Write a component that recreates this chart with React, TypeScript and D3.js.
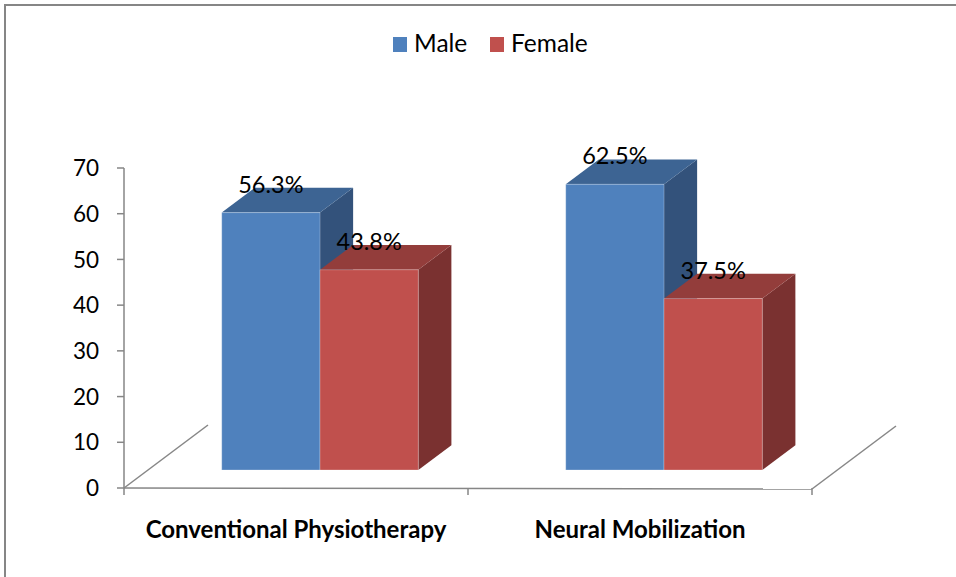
import React from "react";
import * as d3 from "d3";

const categories = ["Conventional Physiotherapy", "Neural Mobilization"];
const seriesNames = ["Male", "Female"];
const maleValues = [56.3, 62.5];
const femaleValues = [43.8, 37.5];
const yTicks = [0, 10, 20, 30, 40, 50, 60, 70];

const seriesValues = [maleValues, femaleValues];
const faceColors = [
  { front: "#4F81BD", top: "#3D6493", side: "#33527B" },
  { front: "#C0504D", top: "#933D3B", side: "#7A3130" },
];

const W = 956;
const H = 577;
const FONT = "Lato, 'Noto Sans', sans-serif";

// oblique projection of the depth axis
const floorDepth = { dx: 84, dy: -63 };
const barFront = 0.286;
const barBack = 0.68;

export default function App() {
  const x = d3.scaleBand<string>().domain(categories).range([124, 812]).paddingInner(0).paddingOuter(0);
  const y = d3.scaleLinear().domain([0, 70]).range([488, 168]);

  const fdx = floorDepth.dx * barFront;
  const fdy = floorDepth.dy * barFront;
  const bdx = floorDepth.dx * barBack;
  const bdy = floorDepth.dy * barBack;
  const ddx = bdx - fdx;
  const ddy = bdy - fdy;

  const bw = x.bandwidth();
  const barW = bw / 3.5;
  const sub = d3.scaleBand<string>().domain(seriesNames).range([0, barW * 2]);

  const bars: React.ReactNode[] = [];
  const labels: React.ReactNode[] = [];
  categories.forEach((c, ci) => {
    const groupStart = (x(c) as number) + (bw - barW * 2) / 2;
    seriesNames.forEach((s, si) => {
      const v = seriesValues[si][ci];
      const col = faceColors[si];
      const x0 = groupStart + (sub(s) as number) + fdx;
      const x1 = x0 + sub.bandwidth();
      const yb = y(0) + fdy;
      const yt = y(v) + fdy;
      const front = `M${x0},${yb}L${x0},${yt}L${x1},${yt}L${x1},${yb}Z`;
      const top = `M${x0},${yt}L${x0 + ddx},${yt + ddy}L${x1 + ddx},${yt + ddy}L${x1},${yt}Z`;
      const side = `M${x1},${yb}L${x1},${yt}L${x1 + ddx},${yt + ddy}L${x1 + ddx},${yb + ddy}Z`;
      bars.push(
        <g key={`${c}-${s}`}>
          <path d={side} fill={col.side} />
          <path d={top} fill={col.top} />
          <path d={front} fill={col.front} stroke="#ffffff" strokeOpacity={0.25} strokeWidth={1} />
        </g>
      );
      labels.push(
        <text
          key={`l-${c}-${s}`}
          x={(x0 + x1) / 2}
          y={yt - 20}
          textAnchor="middle"
          fontFamily={FONT}
          fontSize={23.5}
          fill="#000"
        >
          {`${v.toFixed(1)}%`}
        </text>
      );
    });
  });

  const x0 = 124;
  const x1 = 812;
  const y0 = y(0);

  return (
    <svg
      width={W}
      height={H}
      viewBox={`0 0 ${W} ${H}`}
      style={{ position: "absolute", left: 0, top: 0, display: "block", background: "#fff" }}
    >
      <rect x={5} y={5} width={W + 10} height={H + 10} fill="#fff" stroke="#868686" strokeWidth={2} />

      {/* legend */}
      <g fontFamily={FONT} fontSize={24.5}>
        <rect x={393} y={37} width={14} height={15} fill={faceColors[0].front} />
        <text x={414} y={52} fill="#000">Male</text>
        <rect x={490} y={37} width={14} height={15} fill={faceColors[1].front} />
        <text x={511} y={52} fill="#000">Female</text>
      </g>

      {/* floor */}
      <g stroke="#868686" strokeWidth={1.5} fill="none">
        <line x1={x0} y1={y0} x2={x0 + floorDepth.dx} y2={y0 + floorDepth.dy} />
        <line x1={x1} y1={y0 + 1} x2={x1 + floorDepth.dx} y2={y0 + 1 + floorDepth.dy} />
        <line x1={x0} y1={y0} x2={x1} y2={y0 + 1} />
        {[...categories.map((c) => x(c) as number), x1].map((tx, i) => (
          <line key={i} x1={tx} y1={y0} x2={tx} y2={y0 + 7} />
        ))}
      </g>

      {/* value axis */}
      <g stroke="#868686" strokeWidth={1.5}>
        <line x1={x0} y1={y(70)} x2={x0} y2={y0} />
        {yTicks.map((t) => (
          <line key={t} x1={x0 - 7} y1={y(t)} x2={x0} y2={y(t)} />
        ))}
      </g>
      <g fontFamily={FONT} fontSize={22.5} fill="#000" textAnchor="end">
        {yTicks.map((t) => (
          <text key={t} x={99} y={y(t)} dy="0.36em">
            {t}
          </text>
        ))}
      </g>

      {bars}
      {labels}

      {/* category labels */}
      <g fontFamily={FONT} fontSize={24} fontWeight="bold" fill="#000" textAnchor="middle">
        {categories.map((c) => (
          <text key={c} x={(x(c) as number) + bw / 2} y={538}>
            {c}
          </text>
        ))}
      </g>
    </svg>
  );
}
